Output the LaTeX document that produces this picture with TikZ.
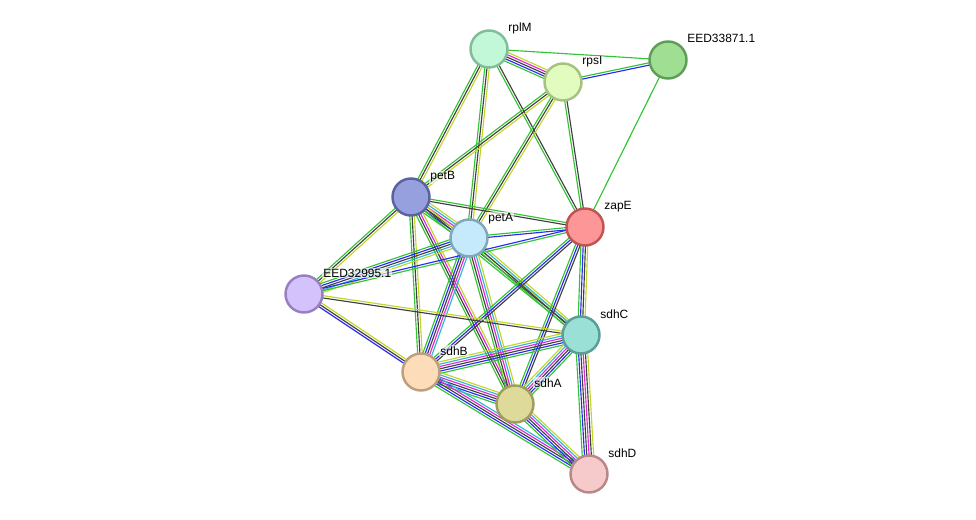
\documentclass[tikz,border=0pt]{standalone}
\usepackage{fontspec}
\setmainfont{Liberation Sans}
\usetikzlibrary{calc,backgrounds}

\definecolor{ppigreen}{HTML}{33C433}
\definecolor{ppiblue}{HTML}{2A2AF5}
\definecolor{ppiblack}{HTML}{404040}
\definecolor{ppimag}{HTML}{DA28DA}
\definecolor{ppicyan}{HTML}{2EB6D6}
\definecolor{ppiyel}{HTML}{C2D62A}

% one protein-protein edge: a bundle of parallel coloured lines
\newcommand\ppiedge[3]{%
  \foreach \c [count=\n] in {#3}{\xdef\ppin{\n}}%
  \foreach \c [count=\i] in {#3}{%
    \pgfmathsetmacro\off{(\i-(\ppin+1)/2)*1.3}%
    \draw[ppi\c,evid] ($(#1)!\off pt!90:(#2)$) -- ($(#2)!\off pt!-90:(#1)$);}}

\begin{document}
\begin{tikzpicture}[x=0.02cm,y=-0.02cm,font=\fontsize{6.8}{8}\selectfont,
 prot/.style={circle,draw,line width=1.4pt,minimum size=0.74cm,inner sep=0pt},
 lab/.style={anchor=base west,inner sep=0.6pt,fill=white,fill opacity=0.6,text opacity=1},
 evid/.style={line width=0.65pt}]
\useasboundingbox (0,0) rectangle (976,520);

\node[prot,fill={rgb,255:red,194;green,248;blue,216},draw={rgb,255:red,128;green,190;blue,154}] (rplM) at (489,49) {};
\node[prot,fill={rgb,255:red,226;green,252;blue,192},draw={rgb,255:red,166;green,194;blue,128}] (rpsI) at (563,82) {};
\node[prot,fill={rgb,255:red,160;green,222;blue,148},draw={rgb,255:red,94;green,158;blue,88}] (eed338) at (668,60) {};
\node[prot,fill={rgb,255:red,150;green,160;blue,222},draw={rgb,255:red,90;green,98;blue,160}] (petB) at (411,197) {};
\node[prot,fill={rgb,255:red,196;green,234;blue,252},draw={rgb,255:red,130;green,166;blue,188}] (petA) at (469,238) {};
\node[prot,fill={rgb,255:red,253;green,150;blue,150},draw={rgb,255:red,192;green,84;blue,84}] (zapE) at (585,227) {};
\node[prot,fill={rgb,255:red,212;green,194;blue,252},draw={rgb,255:red,152;green,128;blue,192}] (eed329) at (304,294) {};
\node[prot,fill={rgb,255:red,154;green,224;blue,214},draw={rgb,255:red,90;green,158;blue,150}] (sdhC) at (581,335) {};
\node[prot,fill={rgb,255:red,253;green,220;blue,186},draw={rgb,255:red,188;green,160;blue,124}] (sdhB) at (421,372) {};
\node[prot,fill={rgb,255:red,222;green,219;blue,154},draw={rgb,255:red,160;green,158;blue,92}] (sdhA) at (515,404) {};
\node[prot,fill={rgb,255:red,246;green,202;blue,202},draw={rgb,255:red,184;green,136;blue,136}] (sdhD) at (589,474) {};

\begin{scope}[on background layer]
\ppiedge{rplM}{rpsI}{green,blue,black,mag,yel}
\ppiedge{rplM}{eed338}{green}
\ppiedge{rpsI}{eed338}{blue,green}
\ppiedge{rplM}{petB}{green,black,yel}
\ppiedge{rplM}{petA}{green,black,yel}
\ppiedge{rplM}{zapE}{green,black}
\ppiedge{rpsI}{petB}{green,black,yel}
\ppiedge{rpsI}{petA}{green,black,yel}
\ppiedge{rpsI}{zapE}{green,black}
\ppiedge{eed338}{zapE}{green}
\ppiedge{petB}{zapE}{black,green}
\ppiedge{petB}{petA}{green,blue,black,mag,cyan,yel}
\ppiedge{petB}{eed329}{green,black,yel}
\ppiedge{petB}{sdhB}{green,black,yel}
\ppiedge{petB}{sdhA}{green,black,mag,yel}
\ppiedge{petB}{sdhC}{green,black,yel}
\ppiedge{petA}{zapE}{blue,green}
\ppiedge{petA}{eed329}{green,blue,black,cyan,yel}
\ppiedge{petA}{sdhB}{green,blue,black,mag,cyan}
\ppiedge{petA}{sdhA}{green,black,mag,cyan,yel}
\ppiedge{petA}{sdhC}{green,black,cyan,yel}
\ppiedge{zapE}{eed329}{blue,green}
\ppiedge{zapE}{sdhC}{green,blue,black,yel}
\ppiedge{zapE}{sdhB}{green,blue,black}
\ppiedge{zapE}{sdhA}{green,blue,black}
\ppiedge{eed329}{sdhC}{black,yel}
\ppiedge{eed329}{sdhB}{blue,black,yel}
\ppiedge{sdhB}{sdhC}{green,blue,black,mag,cyan,yel}
\ppiedge{sdhB}{sdhA}{green,blue,black,mag,cyan,yel}
\ppiedge{sdhB}{sdhD}{green,blue,black,mag,cyan}
\ppiedge{sdhA}{sdhC}{green,blue,black,mag,cyan,yel}
\ppiedge{sdhA}{sdhD}{green,blue,black,mag,cyan,yel}
\ppiedge{sdhC}{sdhD}{green,blue,black,mag,black,yel}
\end{scope}

\node[lab] (lrplM) at ($(rplM)+(18,-17)$) {rplM};
\node[lab] (lrpsI) at ($(rpsI)+(18,-17)$) {rpsI};
\node[lab] (leed338) at ($(eed338)+(18,-17)$) {EED33871.1};
\node[lab] (lpetB) at ($(petB)+(18,-17)$) {petB};
\node[lab] (lpetA) at ($(petA)+(18,-17)$) {petA};
\node[lab] (lzapE) at ($(zapE)+(18,-17)$) {zapE};
\node[lab] (leed329) at ($(eed329)+(18,-17)$) {EED32995.1};
\node[lab] (lsdhC) at ($(sdhC)+(18,-17)$) {sdhC};
\node[lab] (lsdhB) at ($(sdhB)+(18,-17)$) {sdhB};
\node[lab] (lsdhA) at ($(sdhA)+(18,-17)$) {sdhA};
\node[lab] (lsdhD) at ($(sdhD)+(18,-17)$) {sdhD};
\end{tikzpicture}
\end{document}
